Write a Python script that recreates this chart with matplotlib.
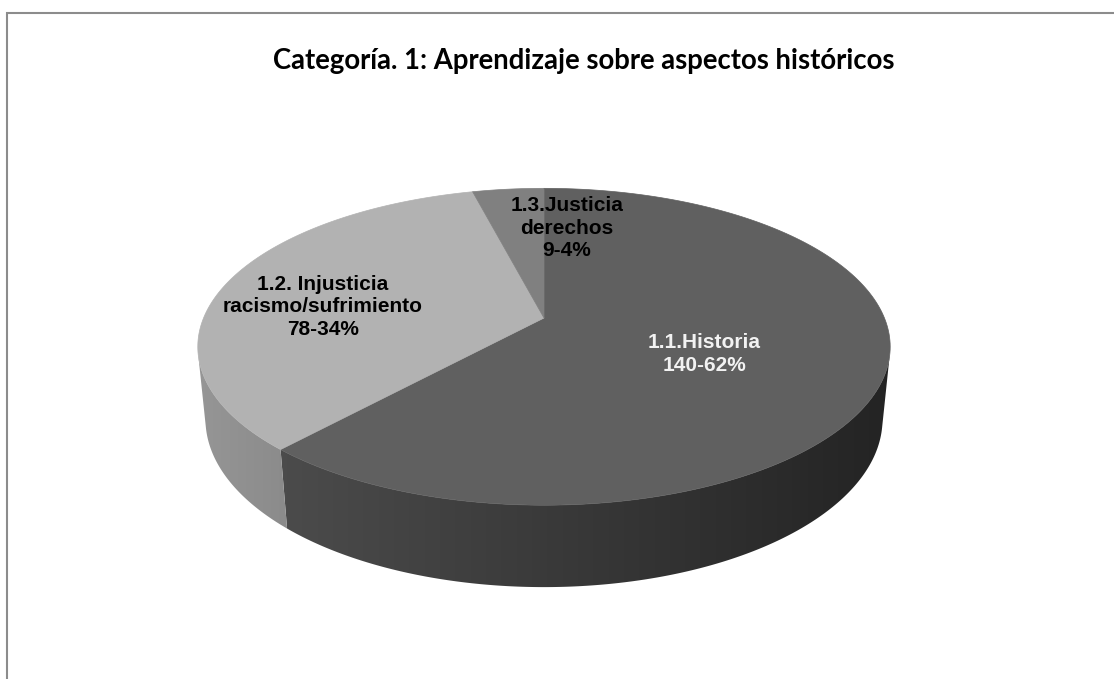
import numpy as np
import matplotlib
matplotlib.use('Agg')
from matplotlib import pyplot as plt
from matplotlib.patches import Polygon

# Categoría 1 data
names = ['1.1.Historia', '1.2. Injusticia\nracismo/sufrimiento', '1.3.Justicia\nderechos']
counts = [140, 78, 9]
top_colors = ['#606060', '#b2b2b2', '#808080']
text_colors = ['#f2f2f2', 'black', 'black']
title = 'Categoría. 1: Aprendizaje sobre aspectos históricos'

# label anchor points (pixels)
label_pos = [(704, 354), (323, 307), (567, 228)]

W, H = 1114, 679
fig = plt.figure(figsize=(W / 100, H / 100), dpi=100)
ax = fig.add_axes([0, 0, 1, 1])
ax.set_xlim(0, W)
ax.set_ylim(H, 0)
ax.axis('off')

# simple perspective camera for the 3D pie
cx, cy = 544, 318
elev = np.arcsin(0.45)
D, F = 4.92, 1675
thick = 0.24
ce, se = np.cos(elev), np.sin(elev)


def proj(x, y, z):
    v = y * se + z * ce
    w = D + y * ce - z * se
    return cx + F * x / w, cy - F * v / w


total = sum(counts)
fracs = [c / total for c in counts]
bounds = [90.0]
for fr in fracs:
    bounds.append(bounds[-1] - fr * 360)

# part of the outer wall that faces the camera
sil = np.degrees(np.arcsin(1 / (D * ce)))
vis_lo, vis_hi = -180 + sil, -sil

# horizontal shading for the side wall
xs = np.arange(W)
fac = np.clip(0.84 - 0.00068 * (xs - 200), 0, 1)

# side walls: a gradient image clipped to each slice's wall outline
for i in range(len(counts)):
    hi, lo = bounds[i], bounds[i + 1]
    hi, lo = min(hi, vis_hi), max(lo, vis_lo)
    if hi <= lo:
        continue
    angs = np.radians(np.linspace(hi, lo, 300))
    top = [proj(np.cos(t), np.sin(t), 0) for t in angs]
    bot = [proj(np.cos(t), np.sin(t), -thick) for t in angs[::-1]]
    poly = Polygon(top + bot, closed=True, facecolor='none', edgecolor='none')
    ax.add_patch(poly)
    rgb = np.array(matplotlib.colors.to_rgb(top_colors[i]))
    img = np.clip(fac[None, :, None] * rgb[None, None, :], 0, 1)
    im = ax.imshow(img, extent=(0, W, H, 0), aspect='auto', interpolation='bilinear')
    im.set_clip_path(poly)

# top faces
for i in range(len(counts)):
    a0, a1 = bounds[i], bounds[i + 1]
    angs = np.radians(np.linspace(a0, a1, 200))
    pts = [proj(0, 0, 0)] + [proj(np.cos(t), np.sin(t), 0) for t in angs]
    ax.add_patch(Polygon(pts, closed=True, facecolor=top_colors[i],
                         edgecolor=top_colors[i], lw=0.5))

ax.set_xlim(0, W)
ax.set_ylim(H, 0)

# data labels
for i in range(len(counts)):
    pct = round(100 * counts[i] / total)
    txt = '%s\n%d-%d%%' % (names[i], counts[i], pct)
    ax.text(label_pos[i][0], label_pos[i][1], txt, ha='center', va='center',
            fontsize=15, fontweight='bold', family='Liberation Sans',
            color=text_colors[i], linespacing=1.25)

ax.text(584, 61, title, ha='center', va='center', fontsize=19.8,
        fontweight='bold', family='Lato', color='black')

# chart area border
ax.plot([7, 7, W + 5], [H + 5, 13, 13], color='#8c8c8c', lw=1.5,
        solid_joinstyle='miter')

fig.savefig('out.png', dpi=100)
